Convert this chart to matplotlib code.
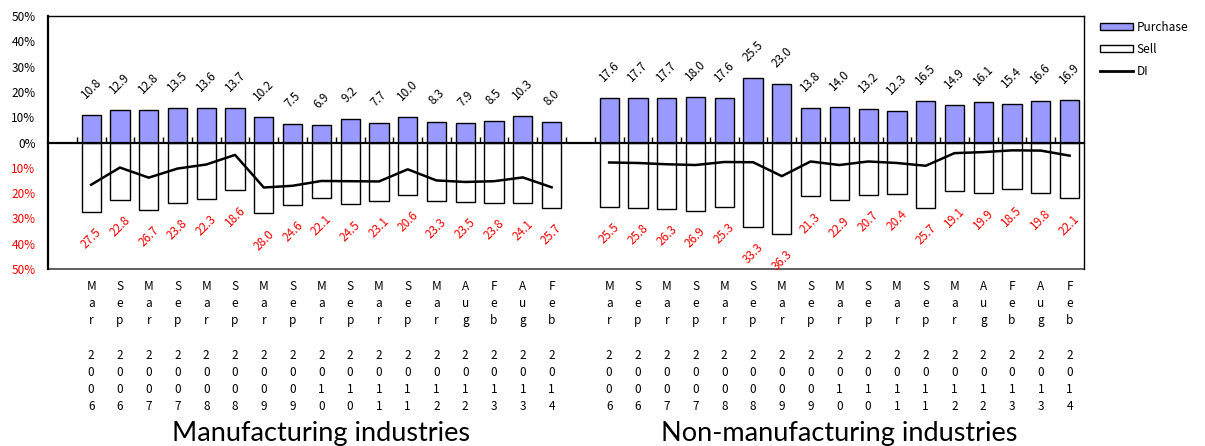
import numpy as np
import matplotlib
matplotlib.use("Agg")
import matplotlib.pyplot as plt
from matplotlib.transforms import blended_transform_factory, offset_copy
from matplotlib.patches import Patch
from matplotlib.lines import Line2D

plt.rcParams['font.family'] = ['Noto Sans CJK JP', 'DejaVu Sans']

# survey periods, same for both industry groups
months = ["Mar", "Sep", "Mar", "Sep", "Mar", "Sep", "Mar", "Sep", "Mar", "Sep",
          "Mar", "Sep", "Mar", "Aug", "Feb", "Aug", "Feb"]
years = ["2006", "2006", "2007", "2007", "2008", "2008", "2009", "2009", "2010",
         "2010", "2011", "2011", "2012", "2012", "2013", "2013", "2014"]

# manufacturing industries (%)
mfg_purchase = [10.8, 12.9, 12.8, 13.5, 13.6, 13.7, 10.2, 7.5, 6.9, 9.2, 7.7,
                10.0, 8.3, 7.9, 8.5, 10.3, 8.0]
mfg_sell = [27.5, 22.8, 26.7, 23.8, 22.3, 18.6, 28.0, 24.6, 22.1, 24.5, 23.1,
            20.6, 23.3, 23.5, 23.8, 24.1, 25.7]
mfg_di = [-16.7, -9.9, -13.9, -10.3, -8.7, -4.9, -17.8, -17.1, -15.2, -15.3,
          -15.4, -10.6, -15.0, -15.6, -15.3, -13.8, -17.7]

# non-manufacturing industries (%)
non_purchase = [17.6, 17.7, 17.7, 18.0, 17.6, 25.5, 23.0, 13.8, 14.0, 13.2, 12.3,
                16.5, 14.9, 16.1, 15.4, 16.6, 16.9]
non_sell = [25.5, 25.8, 26.3, 26.9, 25.3, 33.3, 36.3, 21.3, 22.9, 20.7, 20.4,
            25.7, 19.1, 19.9, 18.5, 19.8, 22.1]
non_di = [-7.9, -8.1, -8.6, -8.9, -7.7, -7.8, -13.3, -7.5, -8.9, -7.5, -8.1,
          -9.2, -4.2, -3.8, -3.1, -3.2, -5.2]

group_titles = ["Manufacturing industries", "Non-manufacturing industries"]

PURPLE = "#9999FF"
RED = "#FF0000"

fig = plt.figure(figsize=(12.05, 4.46), dpi=100)
ax = fig.add_axes([48 / 1205, 1 - 269 / 446, (1084 - 48) / 1205, (269 - 16) / 446])

n = len(months)
x_mfg = np.arange(n) + 1
x_non = np.arange(n) + n + 2
width = 0.67

groups = [(x_mfg, mfg_purchase, mfg_sell, mfg_di),
          (x_non, non_purchase, non_sell, non_di)]

for xs, buy, sell, di in groups:
    ax.bar(xs, buy, width, color=PURPLE, edgecolor="black", linewidth=1, zorder=2)
    ax.bar(xs, -np.array(sell), width, color="white", edgecolor="black",
           linewidth=1, zorder=2)
    ax.plot(xs, di, color="black", linewidth=1.8, zorder=3)

    # value labels, slanted
    for xi, b, s in zip(xs, buy, sell):
        ax.annotate(f"{b:.1f}", (xi, b), xytext=(0, 10), textcoords="offset points",
                    rotation=45, ha="center", va="bottom", fontsize=8.5)
        ax.annotate(f"{s:.1f}", (xi, -s), xytext=(0, -10), textcoords="offset points",
                    rotation=45, ha="center", va="top", fontsize=8.5, color=RED)

ax.set_xlim(-0.5, 2 * n + 1.5)
ax.set_ylim(-50, 50)

# category axis sits on the zero line
ax.spines["bottom"].set_position(("data", 0))
ax.spines["bottom"].set_linewidth(1.6)
ax.spines["left"].set_linewidth(1.6)
ax.spines["top"].set_linewidth(1.0)
ax.spines["right"].set_linewidth(1.0)
ax.axhline(-50, color="#444444", linewidth=1.2, clip_on=False)

ax.set_xticks(np.arange(0.5, 2 * n + 1, 1))
ax.tick_params(axis="x", direction="in", length=4, width=1, labelbottom=False)

yt = np.arange(-50, 51, 10)
ax.set_yticks(yt)
ax.set_yticklabels([f"{abs(v)}%" for v in yt], fontsize=8.5)
for lab, v in zip(ax.get_yticklabels(), yt):
    if v < 0:
        lab.set_color(RED)
ax.tick_params(axis="y", length=0, pad=9)

# stacked month / year labels under the plot
trans = blended_transform_factory(ax.transData, ax.transAxes)
lab_trans = offset_copy(trans, fig=fig, y=-11, units="dots")
for xs in (x_mfg, x_non):
    for xi, m, yr in zip(xs, months, years):
        txt = "\n".join(list(m) + [""] + list(yr))
        ax.text(xi, 0, txt, transform=lab_trans, ha="center", va="top",
                fontsize=8.5, linespacing=1.42)

# group titles
for xs, title in zip((x_mfg, x_non), group_titles):
    ax.text(xs.mean(), 0, title, transform=offset_copy(trans, fig=fig, y=-172, units="dots"),
            ha="center", va="baseline", fontsize=19.5, family="Lato")

handles = [Patch(facecolor=PURPLE, edgecolor="black"),
           Patch(facecolor="white", edgecolor="black"),
           Line2D([], [], color="black", linewidth=2)]
fig.legend(handles, ["Purchase", "Sell", "DI"], loc="upper left",
           bbox_to_anchor=(1100 / 1205, 1 - 21 / 446), frameon=False, fontsize=8.5,
           handlelength=2.8, handleheight=0.55, labelspacing=0.75, handletextpad=0.3,
           borderaxespad=0, borderpad=0)

fig.savefig("out.png", dpi=100)
